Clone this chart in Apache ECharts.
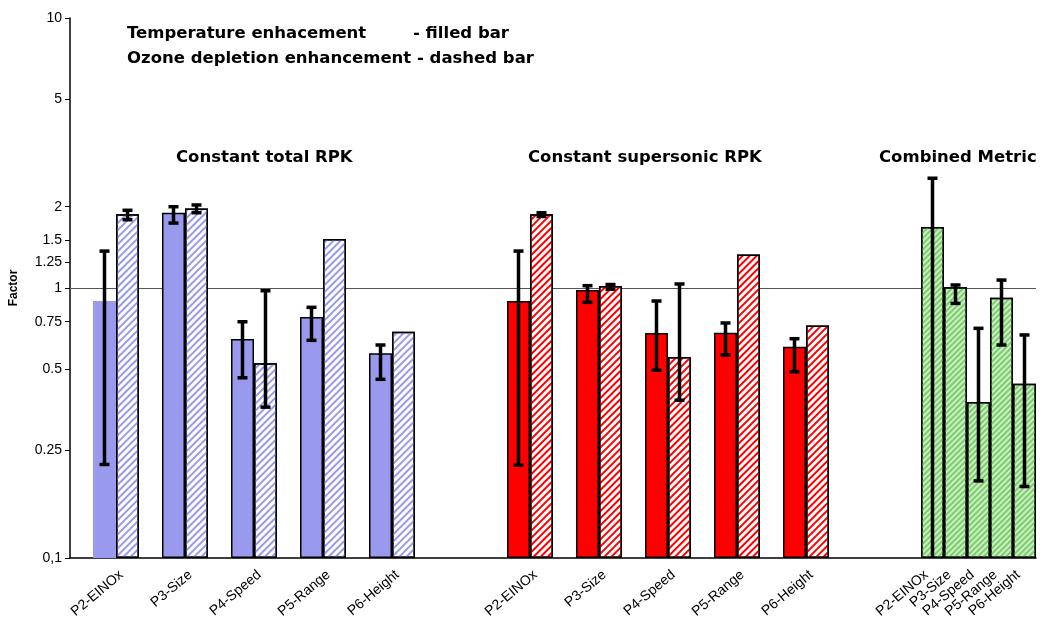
<!DOCTYPE html>
<html>
<head>
<meta charset="utf-8">
<script src="https://cdn.jsdelivr.net/npm/echarts@6/dist/echarts.min.js"></script>
<style>html,body{margin:0;padding:0;background:#fff}#c{width:1045px;height:635px}</style>
</head>
<body>
<div id="c"></div>
<script>
// values per parameter P2..P6
var params = ['P2-EINOx', 'P3-Size', 'P4-Speed', 'P5-Range', 'P6-Height'];
var totTemp = [0.895, 1.90, 0.647, 0.781, 0.573];
var totTempLo = [0.222, 1.74, 0.465, 0.64, 0.459];
var totTempHi = [1.37, 2.0, 0.75, 0.848, 0.615];
var totOzone = [1.875, 1.97, 0.526, 1.518, 0.689];
var totOzoneLo = [1.79, 1.9, 0.362, null, null];
var totOzoneHi = [1.94, 2.03, 0.977, null, null];
var supTemp = [0.895, 0.983, 0.681, 0.683, 0.606];
var supTempLo = [0.221, 0.885, 0.496, 0.565, 0.49];
var supTempHi = [1.37, 1.02, 0.895, 0.742, 0.649];
var supOzone = [1.875, 1.017, 0.555, 1.33, 0.727];
var supOzoneLo = [1.84, 0.99, 0.384, null, null];
var supOzoneHi = [1.90, 1.03, 1.035, null, null];
var comb = [1.683, 1.006, 0.378, 0.921, 0.442];
var combLo = [0.097, 0.877, 0.193, 0.615, 0.184];
var combHi = [2.55, 1.026, 0.709, 1.07, 0.67];
var yTicks = [0.1, 0.25, 0.5, 0.75, 1, 1.25, 1.5, 2, 5, 10];

var N = 42, G1 = 1, G2 = 19, G3 = 37;
function t(v){ return Math.log10(v) + 1; }
var cats = [], labels = {};
for (var i = 0; i < N; i++) { cats.push(i); }
params.forEach(function(p, k){
  labels[G1 + 3*k + 1] = p;
  labels[G2 + 3*k + 1] = p;
  labels[G3 + k] = p;
});
function blank(){ var a = []; for (var i = 0; i < N; i++) a.push(null); return a; }
var blueF = blank(), blueH = blank(), redF = blank(), redH = blank(), greenH = blank(), errs = [];
function addErr(x, lo, hi){ if (lo != null) errs.push([x, t(Math.max(lo, 0.1)), t(hi), lo < 0.1 ? 1 : 0]); }
for (var k = 0; k < 5; k++) {
  var a = G1 + 3*k, b = G2 + 3*k;
  blueF[a] = t(totTemp[k]); blueH[a+1] = t(totOzone[k]);
  redF[b] = t(supTemp[k]); redH[b+1] = t(supOzone[k]);
  greenH[G3 + k] = t(comb[k]);
  addErr(a, totTempLo[k], totTempHi[k]); addErr(a+1, totOzoneLo[k], totOzoneHi[k]);
  addErr(b, supTempLo[k], supTempHi[k]); addErr(b+1, supOzoneLo[k], supOzoneHi[k]);
  addErr(G3 + k, combLo[k], combHi[k]);
}
// first filled blue bar has no outline in the original
blueF[G1] = {value: blueF[G1], itemStyle: {borderWidth: 0}};

function hatch(gap, col){
  return {symbol: 'rect', symbolSize: 1, dashArrayX: [[1, 0]], dashArrayY: [2, gap], rotation: -Math.PI/4, color: col};
}
function barS(data, color, decal){
  var st = {color: color, borderColor: '#000', borderWidth: 1.5};
  if (decal) st.decal = decal;
  return {type: 'bar', data: data, barWidth: '100%', barGap: '-100%', z: 2, itemStyle: st, silent: true};
}
var F = 'bold 16.5px DejaVu Sans';

var chart = echarts.init(document.getElementById('c'));
chart.setOption({
  animation: false,
  grid: {left: 70, right: 9, top: 18, bottom: 77},
  xAxis: {
    type: 'category', data: cats,
    axisLine: {lineStyle: {color: '#000', width: 1.5}},
    axisTick: {interval: 0, alignWithLabel: false, lineStyle: {color: '#888'}, length: 5},
    axisLabel: {interval: 0, rotate: 40, margin: 10, padding: [0, 8, 0, 0], fontFamily: 'Liberation Sans', fontSize: 14, color: '#000',
      formatter: function(v){ return labels[v] || ''; }}
  },
  yAxis: {
    type: 'value', min: 0, max: 2,
    name: 'Factor', nameLocation: 'middle', nameGap: 50, nameRotate: 90,
    nameTextStyle: {fontFamily: 'Liberation Sans', fontWeight: 'bold', fontSize: 12, color: '#000'},
    axisLine: {show: true, lineStyle: {color: '#000', width: 1.5}},
    axisTick: {show: true, customValues: yTicks.map(t), length: 5, lineStyle: {color: '#000'}},
    splitLine: {show: false},
    axisLabel: {customValues: yTicks.map(t), fontFamily: 'Liberation Sans', fontSize: 14, color: '#000', margin: 8,
      formatter: function(v){ var r = Math.pow(10, v - 1); r = Math.round(r*100)/100; return r === 0.1 ? '0,1' : String(r); }}
  },
  series: [
    barS(blueF, '#9999ee', null),
    barS(blueH, '#ffffff', hatch(3, '#9999ee')),
    barS(redF, '#ff0000', null),
    barS(redH, '#ffffff', hatch(3, '#ff0000')),
    Object.assign(barS(greenH, '#c8f0c0', hatch(2, '#7fcc70')), {
      markLine: {silent: true, symbol: 'none', label: {show: false}, z: 1,
        lineStyle: {color: '#555', width: 1, type: 'solid'}, data: [{yAxis: 1}]}
    }),
    {
      type: 'custom', data: errs, z: 5, silent: true, clip: true,
      renderItem: function(params, api){
        var x = api.value(0), lo = api.coord([x, api.value(1)]), hi = api.coord([x, api.value(2)]);
        var w = 5, st = {stroke: '#000', lineWidth: 3.5};
        var ch = [
          {type: 'line', shape: {x1: lo[0], y1: lo[1], x2: hi[0], y2: hi[1]}, style: st},
          {type: 'line', shape: {x1: hi[0]-w, y1: hi[1], x2: hi[0]+w, y2: hi[1]}, style: st}
        ];
        if (!api.value(3)) ch.push({type: 'line', shape: {x1: lo[0]-w, y1: lo[1], x2: lo[0]+w, y2: lo[1]}, style: st});
        return {type: 'group', children: ch};
      }
    }
  ],
  graphic: [
    {type: 'text', left: 127, top: 25, style: {text: 'Temperature enhacement', font: F, fill: '#000'}},
    {type: 'text', left: 413, top: 25, style: {text: '- filled bar', font: F, fill: '#000'}},
    {type: 'text', left: 127, top: 50, style: {text: 'Ozone depletion enhancement - dashed bar', font: F, fill: '#000'}},
    {type: 'text', left: 176, top: 149, style: {text: 'Constant total RPK', font: F, fill: '#000'}},
    {type: 'text', left: 528, top: 149, style: {text: 'Constant supersonic RPK', font: F, fill: '#000'}},
    {type: 'text', left: 879, top: 149, style: {text: 'Combined Metric', font: F, fill: '#000'}}
  ]
});
</script>
</body>
</html>
